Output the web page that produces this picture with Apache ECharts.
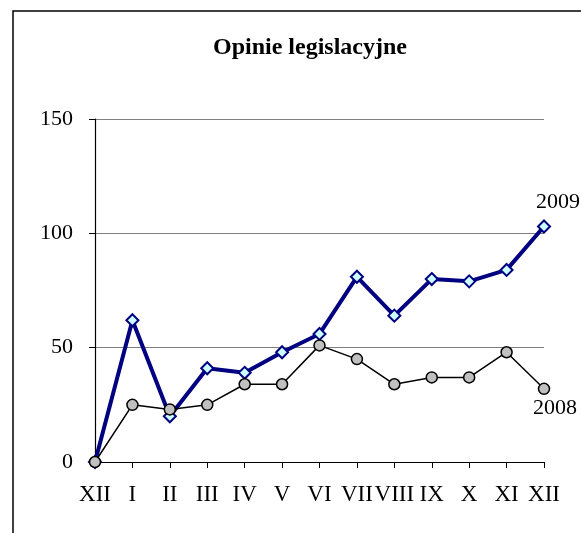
<!DOCTYPE html>
<html>
<head>
<meta charset="utf-8">
<script src="https://cdn.jsdelivr.net/npm/echarts@6/dist/echarts.min.js"></script>
<style>html,body{margin:0;padding:0;background:#fff;}#c{width:581px;height:533px;}</style>
</head>
<body>
<div id="c"></div>
<script>
var categories = ['XII','I','II','III','IV','V','VI','VII','VIII','IX','X','XI','XII'];
var values2009 = [0,62,20,41,39,48,56,81,64,80,79,84,103];
var values2008 = [0,25,23,25,34,34,51,45,34,37,37,48,32];
var yTicks = [0,50,100,150];
var titleText = 'Opinie legislacyjne';
var name2009 = '2009';
var name2008 = '2008';

var serif = '"Liberation Serif", "DejaVu Serif", serif';
var chart = echarts.init(document.getElementById('c'), null, {renderer:'canvas'});

function withEndLabel(arr, name, pos, offset) {
  return arr.map(function (v, i) {
    if (i === arr.length - 1) {
      return {value: v, label: {show: true, position: pos, offset: offset, formatter: name,
        fontFamily: serif, fontSize: 22, color: '#000'}};
    }
    return v;
  });
}

chart.setOption({
  animation: false,
  backgroundColor: '#fff',
  title: {
    text: titleText, left: 305, top: 31, textAlign: 'center',
    textStyle: {fontFamily: serif, fontSize: 24, fontWeight: 'bold', color: '#000'}
  },
  graphic: [{
    type: 'rect', shape: {x: 13, y: 11, width: 700, height: 700},
    style: {fill: 'none', stroke: '#000', lineWidth: 1.5}, silent: true, z: -10
  }],
  grid: {left: 95, right: 37, top: 119, bottom: 71, containLabel: false},
  xAxis: {
    type: 'category', data: categories, boundaryGap: false,
    axisLine: {lineStyle: {color: '#000', width: 1.2}},
    axisTick: {show: true, alignWithLabel: true, length: 6, lineStyle: {color: '#000'}},
    axisLabel: {fontFamily: serif, fontSize: 23, color: '#000', margin: 21, interval: 0},
    splitLine: {show: false}
  },
  yAxis: {
    type: 'value', min: yTicks[0], max: yTicks[yTicks.length - 1], interval: 50,
    axisLine: {show: true, lineStyle: {color: '#000', width: 1.2}},
    axisTick: {show: true, length: 6, lineStyle: {color: '#000'}},
    axisLabel: {fontFamily: serif, fontSize: 22, color: '#000', margin: 22},
    splitLine: {show: true, lineStyle: {color: '#808080', width: 1}}
  },
  series: [
    {
      name: name2009, type: 'line', data: withEndLabel(values2009, name2009, 'top', [14, -1]),
      symbol: 'diamond', symbolSize: 12, showAllSymbol: true,
      lineStyle: {color: '#000080', width: 4},
      itemStyle: {color: '#ccffff', borderColor: '#000080', borderWidth: 2},
      z: 2
    },
    {
      name: name2008, type: 'line', data: withEndLabel(values2008, name2008, 'bottom', [11, -3]),
      symbol: 'circle', symbolSize: 11, showAllSymbol: true,
      lineStyle: {color: '#000', width: 1.5},
      itemStyle: {color: '#c0c0c0', borderColor: '#000', borderWidth: 1.5},
      z: 3
    }
  ]
});
</script>
</body>
</html>
